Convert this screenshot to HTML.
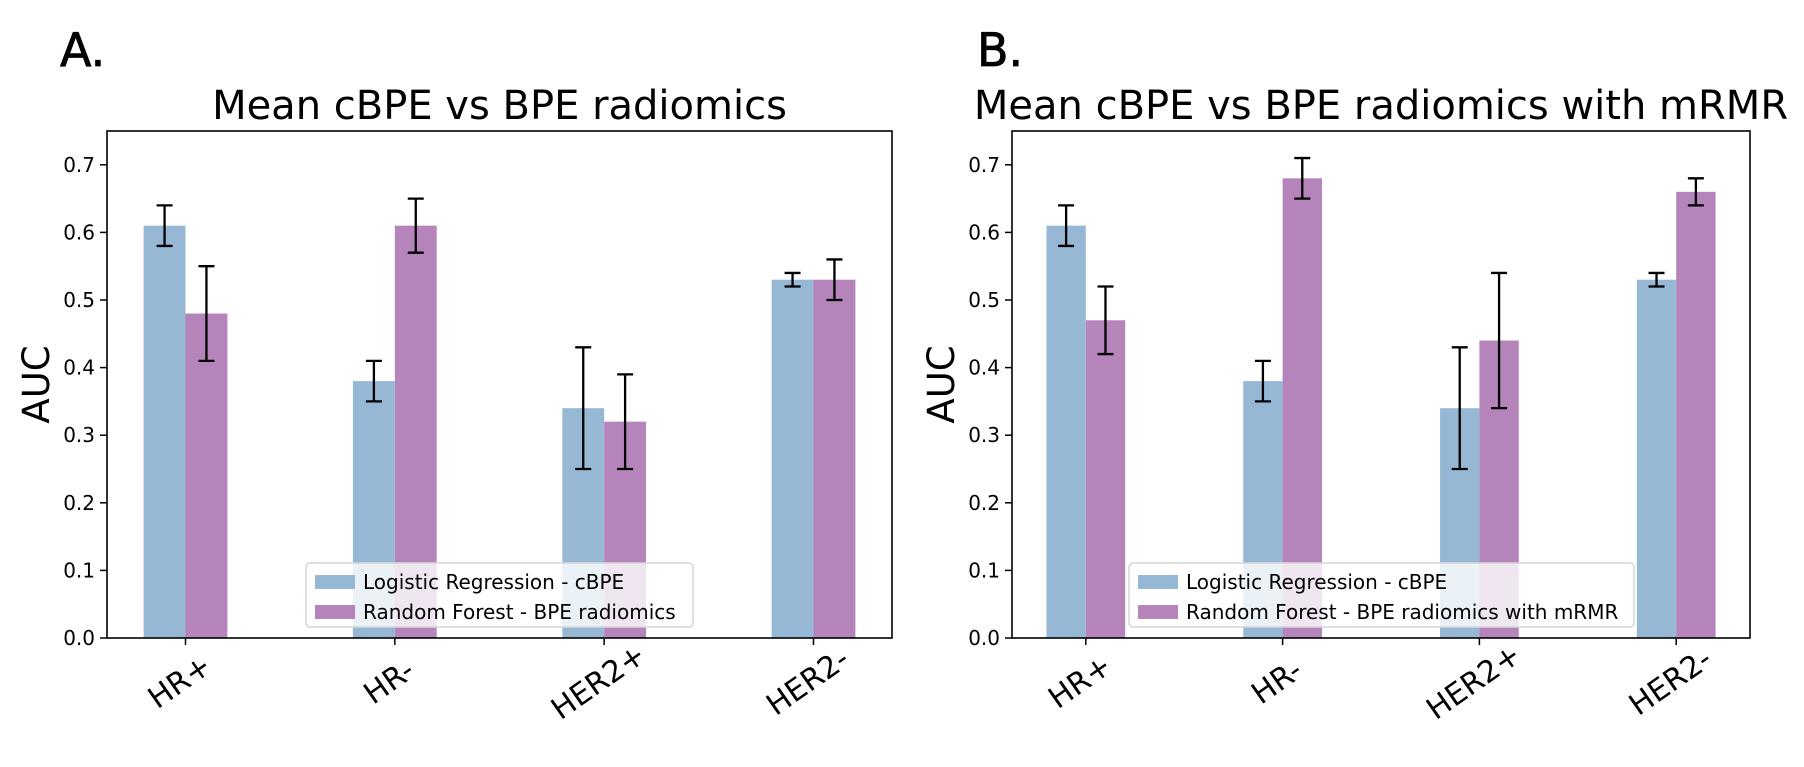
<!DOCTYPE html>
<html><head><meta charset="utf-8"><style>
body{margin:0;background:#fff;}
svg text{font-family:"DejaVu Sans","Liberation Sans",sans-serif;fill:#000;}
</style></head><body>
<svg id="fig" width="1804" height="762" xmlns="http://www.w3.org/2000/svg"></svg>
<script>
const categories = ["HR+","HR-","HER2+","HER2-"];
const lrValues = [0.61,0.38,0.34,0.53];
const lrErrors = [0.03,0.03,0.09,0.01];
const rfValuesA = [0.48,0.61,0.32,0.53];
const rfErrorsA = [0.07,0.04,0.07,0.03];
const rfValuesB = [0.47,0.68,0.44,0.66];
const rfErrorsB = [0.05,0.03,0.10,0.02];
const yTicks = [0.0,0.1,0.2,0.3,0.4,0.5,0.6,0.7];
const legendA = ["Logistic Regression - cBPE","Random Forest - BPE radiomics"];
const legendB = ["Logistic Regression - cBPE","Random Forest - BPE radiomics with mRMR"];

const NS="http://www.w3.org/2000/svg";
const svg=document.getElementById('fig');
function mk(tag,attrs,parent){const e=document.createElementNS(NS,tag);for(const k in attrs)e.setAttribute(k,attrs[k]);(parent||svg).appendChild(e);return e;}

function panel(opt){
  const g=mk('g',{});
  
  
  const L=opt.left,R=opt.right,T=131,B=638;
  const xs=i=>L+(i+0.375)/3.75*(R-L);
  const unit=(R-L)/3.75;
  const ys=v=>B-v/0.75*(B-T);
  const bw=0.2*unit;
  const lt=mk('text',{x:opt.letterX,y:66,'font-size':46,'stroke':'#000','stroke-width':0.8},g);lt.textContent=opt.letter;
  
  
  const tt=mk('text',{x:(L+R)/2,y:119,'font-size':40,'text-anchor':'middle'},g);tt.textContent=opt.title;
  
  
  const yl=mk('text',{x:0,y:0,'font-size':37,'text-anchor':'middle',transform:`translate(${L-58},${(T+B)/2}) rotate(-90)`},g);yl.textContent="AUC";
  
  
  categories.forEach((c,i)=>{
    const cx=xs(i);
    const b1=mk('rect',{x:cx-bw,y:ys(lrValues[i]),width:bw,height:B-ys(lrValues[i]),fill:'#97b8d5'},g);
    
    
    const v2=opt.rf[i];
    const b2=mk('rect',{x:cx,y:ys(v2),width:bw,height:B-ys(v2),fill:'#b484bb'},g);
    
    
  });
  categories.forEach((c,i)=>{
    const cx=xs(i);
    [[cx-bw/2,lrValues[i],lrErrors[i]],[cx+bw/2,opt.rf[i],opt.rfe[i]]].forEach(([x,v,e])=>{
      const eg=mk('g',{stroke:'#000','stroke-width':2.3},g);
      
      
      mk('line',{x1:x,x2:x,y1:ys(v-e),y2:ys(v+e)},eg);
      mk('line',{x1:x-8,x2:x+8,y1:ys(v-e),y2:ys(v-e)},eg);
      mk('line',{x1:x-8,x2:x+8,y1:ys(v+e),y2:ys(v+e)},eg);
    });
  });
  const lg=mk('g',{},g);
  
  
  mk('rect',{x:opt.legX,y:563,width:opt.legW,height:64,rx:4,fill:'rgba(255,255,255,0.8)',stroke:'#d6d6d6','stroke-width':1.5},lg);
  opt.legend.forEach((t,k)=>{
    const yy=575+k*30;
    const sw=mk('rect',{x:opt.legX+9,y:yy,width:40,height:14,fill:k?'#b484bb':'#97b8d5'},lg);
    
    
    const te=mk('text',{x:opt.legX+57,y:yy+14,'font-size':20},lg);te.textContent=t;
    
    
  });
  const fr=mk('rect',{x:L,y:T,width:R-L,height:B-T,fill:'none',stroke:'#000','stroke-width':1.6},g);
  
  
  yTicks.forEach(v=>{
    mk('line',{x1:L-7,x2:L,y1:ys(v),y2:ys(v),stroke:'#000','stroke-width':1.5},g);
    const t=mk('text',{x:L-12,y:ys(v)+7,'font-size':20,'text-anchor':'end'},g);t.textContent=v.toFixed(1);
    
    
  });
  categories.forEach((c,i)=>{
    const cx=xs(i);
    mk('line',{x1:cx,x2:cx,y1:B,y2:B+7,stroke:'#000','stroke-width':1.5},g);
    const t=mk('text',{x:0,y:0,'font-size':30,'text-anchor':'middle',transform:`translate(${cx},${B+52}) rotate(-35)`},g);t.textContent=c;
    
    
  });
}
panel({id:'panel-a',letter:'A.',letterX:60,title:'Mean cBPE vs BPE radiomics',left:107,right:892,rf:rfValuesA,rfe:rfErrorsA,legend:legendA,legX:306,legW:387});
panel({id:'panel-b',letter:'B.',letterX:977,title:'Mean cBPE vs BPE radiomics with mRMR',left:1012,right:1750,rf:rfValuesB,rfe:rfErrorsB,legend:legendB,legX:1129,legW:505});
</script>
</body></html>
